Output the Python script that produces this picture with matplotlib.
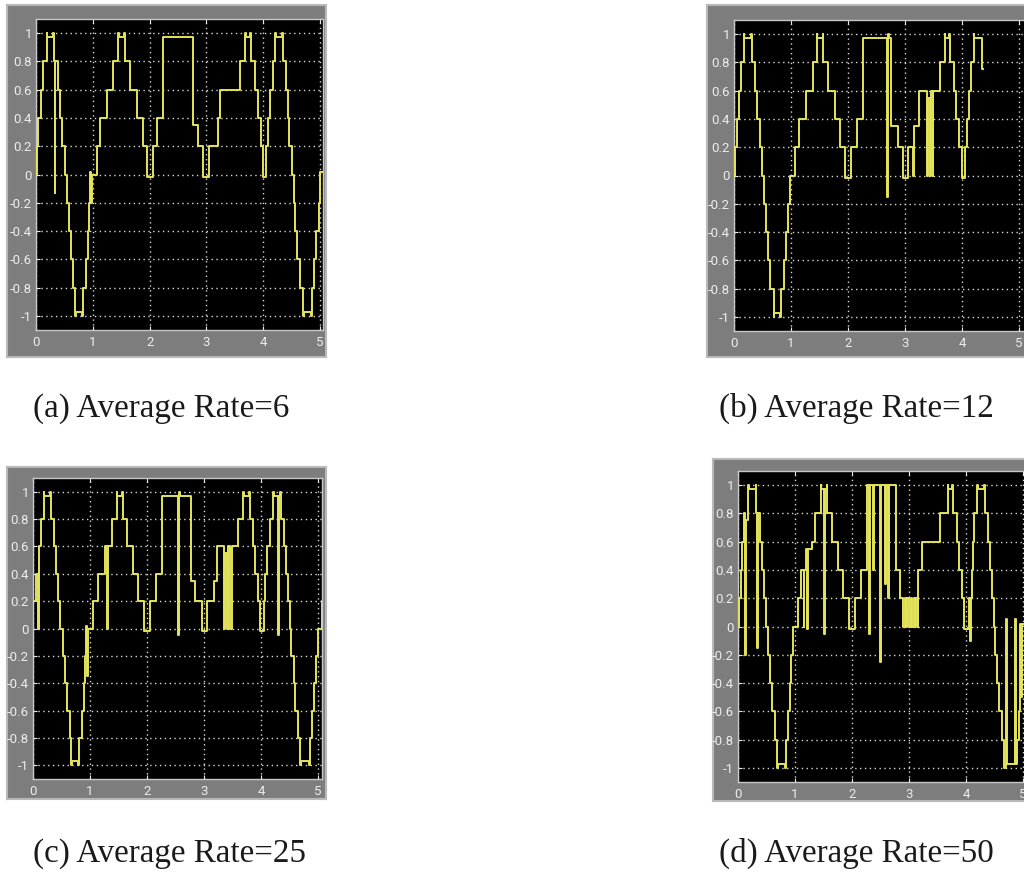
import matplotlib
matplotlib.use('Agg')
import matplotlib.pyplot as plt

# ---------------- data (step breakpoints) ----------------
a_t = [0.000, 0.012, 0.041, 0.082, 0.129, 0.188, 0.200, 0.293, 0.311, 0.329, 0.340, 0.393,
       0.423, 0.464, 0.511, 0.540, 0.581, 0.616, 0.646, 0.687, 0.698, 0.810, 0.822, 0.880,
       0.921, 0.939, 0.951, 0.968, 0.992, 1.068, 1.127, 1.244, 1.362, 1.450, 1.461, 1.555,
       1.573, 1.655, 1.772, 1.890, 1.948, 2.054, 2.066, 2.124, 2.242, 2.758, 2.858, 2.946,
       3.052, 3.210, 3.239, 3.592, 3.680, 3.691, 3.768, 3.785, 3.856, 3.914, 3.961, 3.991,
       4.049, 4.090, 4.120, 4.167, 4.208, 4.220, 4.325, 4.343, 4.401, 4.431, 4.460, 4.501,
       4.531, 4.560, 4.589, 4.648, 4.695, 4.707, 4.842, 4.853, 4.894, 4.930, 4.971, 5.000,
       5.030]
a_v = [0.0, 0.2, 0.4, 0.6, 0.8, 1.0, 0.97, 1.0, 0.8, -0.13, 0.8, 0.6,
       0.4, 0.2, 0.0, -0.2, -0.4, -0.6, -0.8, -1.0, -0.97, -1.0, -0.8, -0.6,
       -0.4, -0.2, 0.02, -0.2, 0.0, 0.2, 0.4, 0.6, 0.8, 1.0, 0.97, 1.0,
       0.8, 0.6, 0.4, 0.2, -0.02, 0.0, 0.2, 0.4, 0.97, 0.35, 0.2, -0.02,
       0.2, 0.4, 0.6, 0.8, 1.0, 0.97, 1.0, 0.8, 0.6, 0.4, 0.2, -0.02,
       0.2, 0.4, 0.6, 0.8, 1.0, 0.97, 1.0, 0.8, 0.6, 0.4, 0.2, 0.0,
       -0.2, -0.4, -0.6, -0.8, -1.0, -0.97, -1.0, -0.8, -0.6, -0.4, -0.2, 0.02,
       0.02]

b_t = [0.000, 0.012, 0.053, 0.088, 0.129, 0.170, 0.182, 0.299, 0.317, 0.364, 0.405, 0.452,
       0.493, 0.522, 0.557, 0.598, 0.639, 0.698, 0.710, 0.809, 0.821, 0.874, 0.921, 0.950,
       0.991, 1.067, 1.144, 1.261, 1.390, 1.449, 1.460, 1.554, 1.566, 1.654, 1.771, 1.859,
       1.947, 2.053, 2.152, 2.258, 2.680, 2.698, 2.727, 2.757, 2.886, 2.974, 3.062, 3.150,
       3.167, 3.238, 3.384, 3.402, 3.431, 3.449, 3.484, 3.501, 3.607, 3.695, 3.707, 3.765,
       3.783, 3.853, 3.900, 3.941, 4.000, 4.059, 4.088, 4.117, 4.158, 4.205, 4.217, 4.352,
       4.364]
b_v = [0.0, 0.2, 0.4, 0.6, 0.8, 1.0, 0.97, 1.0, 0.8, 0.6, 0.4, 0.2,
       0.0, -0.2, -0.4, -0.6, -0.8, -1.0, -0.97, -1.0, -0.8, -0.6, -0.4, -0.2,
       0.0, 0.2, 0.4, 0.6, 0.8, 1.0, 0.97, 1.0, 0.8, 0.6, 0.4, 0.2,
       -0.02, 0.2, 0.4, 0.97, -0.15, 1.0, 0.97, 0.35, 0.2, -0.02, 0.2, 0.0,
       0.35, 0.6, 0.0, 0.55, 0.0, 0.6, 0.0, 0.6, 0.8, 1.0, 0.97, 1.0,
       0.8, 0.6, 0.4, 0.2, -0.02, 0.2, 0.4, 0.6, 0.8, 1.0, 0.97, 0.75,
       0.75]

c_t = [0.000, 0.047, 0.088, 0.100, 0.147, 0.188, 0.199, 0.293, 0.311, 0.364, 0.399, 0.440,
       0.481, 0.528, 0.569, 0.604, 0.645, 0.674, 0.686, 0.798, 0.809, 0.868, 0.897, 0.909,
       0.927, 0.944, 0.962, 1.044, 1.144, 1.261, 1.290, 1.308, 1.378, 1.466, 1.478, 1.554,
       1.572, 1.642, 1.760, 1.848, 1.947, 2.053, 2.158, 2.258, 2.540, 2.563, 2.581, 2.768,
       2.845, 2.962, 3.050, 3.167, 3.226, 3.343, 3.361, 3.402, 3.419, 3.460, 3.490, 3.589,
       3.683, 3.695, 3.783, 3.800, 3.853, 3.900, 3.941, 3.977, 4.047, 4.076, 4.106, 4.152,
       4.211, 4.223, 4.305, 4.323, 4.340, 4.358, 4.411, 4.446, 4.476, 4.505, 4.534, 4.575,
       4.604, 4.651, 4.692, 4.704, 4.845, 4.856, 4.897, 4.927, 4.956, 4.997, 5.073, 5.150]
c_v = [0.2, 0.4, 0.0, 0.6, 0.8, 1.0, 0.97, 1.0, 0.8, 0.6, 0.4, 0.2,
       0.0, -0.2, -0.4, -0.6, -0.8, -1.0, -0.97, -1.0, -0.8, -0.6, -0.4, -0.2,
       0.02, -0.35, 0.0, 0.2, 0.4, 0.6, 0.0, 0.6, 0.8, 1.0, 0.97, 1.0,
       0.8, 0.6, 0.4, 0.2, -0.02, 0.2, 0.4, 0.97, -0.05, 1.0, 0.97, 0.35,
       0.2, -0.02, 0.2, 0.35, 0.6, 0.0, 0.55, 0.0, 0.6, 0.0, 0.6, 0.8,
       1.0, 0.97, 1.0, 0.8, 0.6, 0.4, 0.2, -0.02, 0.2, 0.4, 0.6, 0.8,
       1.0, 0.97, -0.05, 0.97, 1.0, 0.8, 0.6, 0.4, 0.2, 0.0, -0.2, -0.4,
       -0.6, -0.8, -1.0, -0.97, -1.0, -0.8, -0.6, -0.4, -0.2, 0.0, 0.2, 0.2]

d_t = [0.000, 0.012, 0.047, 0.076, 0.106, 0.129, 0.141, 0.182, 0.194, 0.311, 0.323, 0.334,
       0.352, 0.393, 0.428, 0.452, 0.487, 0.528, 0.569, 0.604, 0.645, 0.686, 0.698, 0.827,
       0.839, 0.880, 0.909, 0.938, 0.968, 1.056, 1.114, 1.155, 1.167, 1.202, 1.214, 1.232,
       1.290, 1.349, 1.449, 1.460, 1.507, 1.525, 1.554, 1.566, 1.642, 1.760, 1.848, 1.953,
       2.053, 2.152, 2.258, 2.305, 2.323, 2.375, 2.393, 2.493, 2.510, 2.581, 2.598, 2.639,
       2.657, 2.774, 2.845, 2.903, 2.927, 2.950, 2.974, 2.997, 3.038, 3.062, 3.085, 3.109,
       3.132, 3.155, 3.167, 3.226, 3.548, 3.677, 3.689, 3.760, 3.771, 3.842, 3.871, 3.930,
       3.971, 4.047, 4.076, 4.088, 4.100, 4.117, 4.147, 4.194, 4.205, 4.323, 4.340, 4.381,
       4.428, 4.457, 4.487, 4.516, 4.545, 4.575, 4.633, 4.674, 4.710, 4.727, 4.868, 4.886,
       4.897, 4.927, 4.944, 4.962, 4.985, 5.040]
d_v = [0.0, 0.2, 0.4, 0.6, 0.8, -0.2, 0.75, 1.0, 0.97, 1.0, 0.8, -0.15,
       0.8, 0.6, 0.4, 0.2, 0.0, -0.2, -0.4, -0.6, -0.8, -1.0, -0.97, -1.0,
       -0.8, -0.6, -0.4, -0.2, 0.0, 0.2, 0.4, 0.0, 0.4, 0.55, -0.02, 0.55,
       0.6, 0.8, 1.0, 0.97, -0.05, 0.97, 1.0, 0.8, 0.6, 0.4, 0.2, -0.02,
       0.2, 0.4, 1.0, -0.05, 1.0, 0.4, 1.0, -0.25, 1.0, 0.3, 1.0, 0.2,
       1.0, 0.4, 0.2, 0.0, 0.2, 0.0, 0.2, 0.0, 0.2, 0.0, 0.2, 0.0,
       0.2, 0.0, 0.4, 0.6, 0.8, 1.0, 0.97, 1.0, 0.8, 0.6, 0.4, 0.2,
       -0.02, 0.2, -0.1, 0.2, 0.4, 0.6, 0.8, 1.0, 0.97, 1.0, 0.8, 0.6,
       0.4, 0.2, 0.0, -0.2, -0.4, -0.6, -0.8, -1.0, 0.05, -0.97, 0.05, -0.97,
       -0.8, -0.6, 0.02, -0.5, 0.02, 0.02]

captions = ['(a) Average Rate=6', '(b) Average Rate=12',
            '(c) Average Rate=25', '(d) Average Rate=50']
x_ticks = [0, 1, 2, 3, 4, 5]
x_ticklabels = ['0', '1', '2', '3', '4', '5']
y_ticks = [-1, -0.8, -0.6, -0.4, -0.2, 0, 0.2, 0.4, 0.6, 0.8, 1]
y_ticklabels = ['-1', '-0.8', '-0.6', '-0.4', '-0.2', '0', '0.2', '0.4', '0.6', '0.8', '1']

# ---------------- layout (pixels of a 1024x876 canvas) ----------------
W, H = 1024, 876
fig = plt.figure(figsize=(W / 100, H / 100), dpi=100)
fig.patch.set_facecolor('white')


def fx(px):
    return px / W


def fyb(py):
    return 1 - py / H


layout = [
    # frame (x0, y0, x1, y1), black plot box (x0, y0, x1, y1), xlim right, caption baseline (x, y)
    dict(t=a_t, v=a_v, frame=(7, 5, 326, 357), box=(36, 19, 323, 330), xr=5.05, cap=(33, 417)),
    dict(t=b_t, v=b_v, frame=(707, 5, 1100, 357), box=(734, 20, 1036, 331), xr=5.30, cap=(719, 417)),
    dict(t=c_t, v=c_v, frame=(7, 467, 326, 799), box=(33, 478, 322, 779), xr=5.07, cap=(33, 862)),
    dict(t=d_t, v=d_v, frame=(713, 459, 1100, 801), box=(738, 471, 1040, 782), xr=5.30, cap=(719, 862)),
]

tick_font = ['Roboto', 'DejaVu Sans']

for p, cap in zip(layout, captions):
    x0, y0, x1, y1 = p['frame']
    # gray scope frame drawn as a background axes so it sits under the plot
    fax = fig.add_axes([fx(x0), fyb(y1), fx(x1 - x0), (y1 - y0) / H], zorder=-5)
    fax.set_facecolor('#7d7d7d')
    fax.set_xticks([])
    fax.set_yticks([])
    for s in fax.spines.values():
        s.set_color('#b8b8b8')
        s.set_linewidth(1.5)

    bx0, by0, bx1, by1 = p['box']
    ax = fig.add_axes([fx(bx0), fyb(by1), fx(bx1 - bx0), (by1 - by0) / H], zorder=1)
    ax.set_facecolor('black')
    ax.step(p['t'], p['v'], where='post', color='#e4e45a', linewidth=1.4, zorder=3)
    ax.set_xlim(0, p['xr'])
    ax.set_ylim(-1.1, 1.1)
    ax.set_xticks(x_ticks)
    ax.set_xticklabels(x_ticklabels)
    ax.set_yticks(y_ticks)
    ax.set_yticklabels(y_ticklabels)
    ax.grid(True, color='#d8d8d8', linestyle=(0, (1, 2.5)), linewidth=1.0, zorder=1)
    ax.tick_params(axis='both', colors='#ececec', labelsize=9.5, direction='in',
                   length=3, width=0.8, top=True)
    ax.tick_params(axis='y', pad=3)
    ax.tick_params(axis='x', pad=4)
    for lab in ax.get_xticklabels() + ax.get_yticklabels():
        lab.set_family(tick_font)
    for s in ax.spines.values():
        s.set_color('#c8c8c8')
        s.set_linewidth(1.0)
    fig.text(fx(p['cap'][0]), fyb(p['cap'][1]), cap, fontsize=23.8,
             family=['Liberation Serif', 'DejaVu Serif'], ha='left', va='baseline',
             color='#1a1a1a')

fig.savefig('out.png', dpi=100, facecolor='white')
